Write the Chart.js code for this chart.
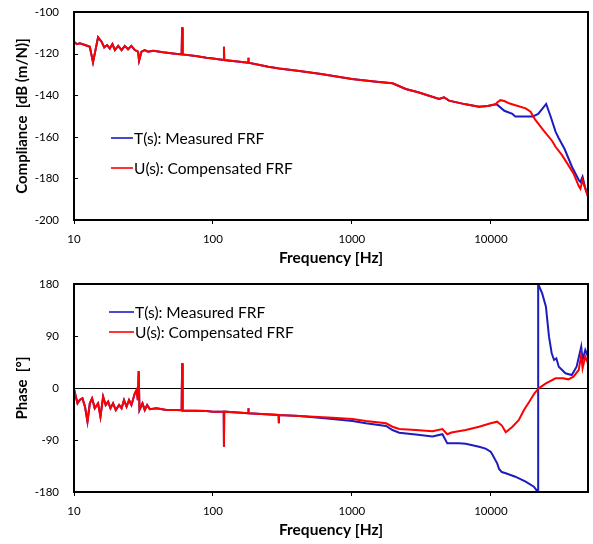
<!DOCTYPE html>
<html>
<head>
<meta charset="utf-8">
<script src="https://cdn.jsdelivr.net/npm/chart.js@4"></script>
<style>
html,body{margin:0;padding:0;background:#fff;}
#wrap{position:relative;width:593px;height:544px;}
canvas{position:absolute;left:0;}
</style>
</head>
<body>
<div id="wrap">
<canvas id="c1" width="593" height="272" style="top:0"></canvas>
<canvas id="c2" width="593" height="272" style="top:272px"></canvas>
</div>
<script>
// ---------- data ----------
const seriesNames = ["T(s): Measured FRF", "U(s): Compensated FRF"];
const xTickValues = [10, 100, 1000, 10000];
const magTicks = [-200, -180, -160, -140, -120, -100];
const phaseTicks = [-180, -90, 0, 90, 180];

// Magnitude (dB) - common part (both series identical)
const magFreqCommon = [10,10.5,11,12,13,13.7,14.9,15.8,16.5,17.3,18.1,18.9,19.7,20.8,22,23.2,24.5,25.9,27.4,28.9,29.4,30.6,32.3,34.1,37.2,43.8,51.6,59.5,60,60.5,75,89.7,100,119.5,120,120.5,150,179.5,180,180.5,250,300,419,600,1000,1500,1960,2440,3000,3500,4240,4600,5000,6590,8220,9500,10800];
const magCommon = [-114.3,-115.5,-115.1,-115.9,-116.7,-124.2,-112.2,-114.3,-117.0,-115.9,-117.5,-115.4,-118.3,-116.3,-118.3,-116.3,-117.9,-116.3,-118.3,-119.1,-123.4,-119.1,-118.3,-119.1,-118.6,-119.4,-119.9,-120.4,-107.4,-120.4,-121.2,-122.0,-122.4,-123.1,-116.7,-123.1,-123.8,-124.4,-122.0,-124.4,-126.3,-127.2,-128.4,-129.8,-132.2,-133.5,-134.3,-137.0,-138.6,-140.0,-141.8,-141.0,-142.6,-144.4,-145.5,-145.2,-144.4];
// Magnitude tails
const magFreqT = [11100,12500,14300,15000,18000,20000,21900,23500,25000,27000,29200,30800,34000,38300,42900,44100,45700,47500,50000];
const magT = [-144.6,-147.5,-149.0,-150.3,-150.3,-150.3,-149.0,-146.5,-144.2,-150.5,-157.5,-160.7,-166.0,-174.4,-180.8,-181.7,-179.2,-184.0,-188.8];
const magFreqU = [11100,11700,12500,13500,15000,17800,19300,20900,24000,27600,29200,32500,36000,39300,42900,44100,45700,47500,50000];
const magU = [-143.5,-142.4,-142.8,-143.9,-144.8,-146.3,-147.9,-151.9,-157.0,-162.0,-164.8,-168.8,-173.5,-177.6,-183.7,-185.0,-180.8,-184.5,-188.5];

// Phase (deg) - common part
const phFreqCommon = [10,10.6,11,11.5,12,12.5,13,13.5,14.1,14.9,15.5,16.2,16.9,17.6,18.3,19.1,20,21.1,22,22.9,23.9,24.9,25.9,27.4,28.2,28.8,29.2,29.6,31.1,32.3,33.6,35.1,39.2,46.3,54.6,59.5,60,60.5,75,89.7,100,119.5,120,120.5,150,179.5,180,180.5,240,297,298,299,419];
const phCommon = [-2.3,-26.5,-20.8,-17.9,-32.3,-58.3,-26.5,-17.9,-35.2,-26.5,-49.6,-15.0,-29.4,-23.7,-35.2,-26.5,-38.1,-29.4,-35.2,-20.8,-32.3,-20.8,-29.4,-9.2,-3.5,-20.8,29.4,-38.1,-26.5,-38.1,-29.4,-36.6,-35.2,-38.1,-38.1,-38.5,42.7,-39.5,-39.5,-39.8,-41.0,-41.0,-101.6,-41.0,-42.5,-43.8,-35.2,-43.8,-45.5,-46.7,-61.0,-46.7,-48.5];
// Phase tails
const phFreqT = [726,1010,1260,1760,1960,2190,2880,3800,4480,4860,5900,6590,8220,9160,9960,10250,11100,11450,12000,12800,15000,17800,20400,21700,21900,21900,23400,24900,26200,27400,28500,29600,30800,34400,38200,41400,44700,45700,47800,50000];
const phT = [-53.6,-57.1,-61.0,-65.8,-72.7,-77.3,-80.5,-84.0,-80.0,-95.8,-95.8,-96.5,-101.6,-105.0,-110.3,-115.0,-130.4,-140.0,-145.5,-147.6,-153.5,-162.2,-170.8,-179.5,-180,180,163.8,140.8,88.8,60.0,48.5,51.4,36.9,25.4,22.5,36.9,71.5,48.5,65.8,54.3];
const phFreqU = [726,1010,1260,1760,1960,2190,2880,3800,4480,4860,5200,6590,8220,9960,11100,12000,12800,14300,15900,17300,18900,20600,22100,24900,29200,33000,36100,39300,42900,44700,45700,47800,50000];
const phU = [-51.3,-53.6,-57.0,-61.0,-67.0,-71.0,-72.5,-75.0,-71.0,-80.0,-77.0,-72.7,-67.0,-61.1,-58.3,-65.0,-76.7,-67.0,-55.4,-38.1,-23.7,-9.2,-0.6,8.1,16.8,17.0,15.0,19.6,31.2,57.1,34.2,54.3,42.7];

// ---------- helpers ----------
const BLUE = '#1c1cc0';
const RED = '#ff0000';
const FONT = 'Lato, "Open Sans", sans-serif';
const toPts = (xs, ys) => xs.map((x, i) => ({x: x, y: ys[i]}));

function framePlugin(legendPos, zeroLine) {
  return {
    id: 'frame',
    beforeDatasetsDraw(chart) {
      if (!zeroLine) return;
      const ctx = chart.ctx, a = chart.chartArea, y = chart.scales.y.getPixelForValue(0);
      ctx.save();
      ctx.strokeStyle = '#000'; ctx.lineWidth = 1;
      ctx.beginPath(); ctx.moveTo(a.left, Math.round(y) + 0.5); ctx.lineTo(a.right, Math.round(y) + 0.5); ctx.stroke();
      ctx.restore();
    },
    afterDraw(chart) {
      const ctx = chart.ctx, a = chart.chartArea, ys = chart.scales.y;
      ctx.save();
      ctx.strokeStyle = '#000'; ctx.lineWidth = 2;
      ctx.strokeRect(a.left, a.top, a.right - a.left, a.bottom - a.top);
      ctx.lineWidth = 1;
      ys.ticks.forEach(t => {
        const y = Math.round(ys.getPixelForValue(t.value)) + 0.5;
        ctx.beginPath(); ctx.moveTo(a.left, y); ctx.lineTo(a.left + 4, y); ctx.stroke();
      });
      // legend
      ctx.font = '15.5px ' + FONT;
      ctx.textBaseline = 'middle';
      ctx.textAlign = 'left';
      const cols = [BLUE, RED];
      legendPos.items.forEach((yy, i) => {
        ctx.strokeStyle = cols[i]; ctx.lineWidth = 1.6;
        ctx.beginPath(); ctx.moveTo(legendPos.x0, yy); ctx.lineTo(legendPos.x1, yy); ctx.stroke();
        ctx.fillStyle = '#000';
        ctx.fillText(seriesNames[i], legendPos.x1 + 1, yy + 0.5);
      });
      ctx.restore();
    }
  };
}

function makeChart(id, dsBlue, dsRed, yMin, yMax, yTicks, yTitle, legendPos, zeroLine) {
  return new Chart(document.getElementById(id), {
    type: 'line',
    data: {
      datasets: [
        {label: seriesNames[1], data: dsRed, borderColor: RED, borderWidth: 2, pointRadius: 0, tension: 0, fill: false},
        {label: seriesNames[0], data: dsBlue, borderColor: BLUE, borderWidth: 2, pointRadius: 0, tension: 0, fill: false}
      ]
    },
    options: {
      responsive: false, animation: false, devicePixelRatio: 1,
      layout: {padding: {left: 0, right: 5, top: 12, bottom: 0}},
      plugins: {legend: {display: false}, tooltip: {enabled: false}},
      scales: {
        x: {
          type: 'logarithmic', min: 10, max: 50000,
          afterBuildTicks: ax => { ax.ticks = xTickValues.map(v => ({value: v})); },
          afterFit: s => { s.height = 52; s.paddingLeft = 0; s.paddingRight = 0; },
          ticks: {callback: v => String(v), color: '#000', font: {family: FONT, size: 11.5}, padding: 8, maxRotation: 0, autoSkip: false},
          grid: {display: true, drawOnChartArea: false, drawTicks: true, tickLength: 4, color: '#000', lineWidth: 1},
          border: {display: true, color: '#000', width: 2},
          title: {display: true, text: 'Frequency [Hz]', color: '#000', font: {family: FONT, size: 15.5, weight: 'bold'}, padding: {top: 0, bottom: 5}}
        },
        y: {
          min: yMin, max: yMax,
          afterBuildTicks: ax => { ax.ticks = yTicks.map(v => ({value: v})); },
          afterFit: s => { s.width = 74; s.paddingTop = 0; s.paddingBottom = 0; },
          ticks: {color: '#000', font: {family: FONT, size: 11.5}, padding: 15},
          grid: {display: false, drawTicks: false},
          border: {display: true, color: '#000', width: 2},
          title: {display: true, text: yTitle, color: '#000', font: {family: FONT, size: 15, weight: 'bold'}, padding: {top: 13, bottom: 0}}
        }
      }
    },
    plugins: [framePlugin(legendPos, zeroLine)]
  });
}

makeChart('c1',
  toPts(magFreqCommon.concat(magFreqT), magCommon.concat(magT)),
  toPts(magFreqCommon.concat(magFreqU), magCommon.concat(magU)),
  -200, -100, magTicks, 'Compliance  [dB (m/N)]',
  {x0: 111, x1: 133, items: [138, 168]}, false);

makeChart('c2',
  toPts(phFreqCommon.concat(phFreqT), phCommon.concat(phT)),
  toPts(phFreqCommon.concat(phFreqU), phCommon.concat(phU)),
  -180, 180, phaseTicks, 'Phase  [°]',
  {x0: 109, x1: 134, items: [40, 60]}, true);
</script>
</body>
</html>
